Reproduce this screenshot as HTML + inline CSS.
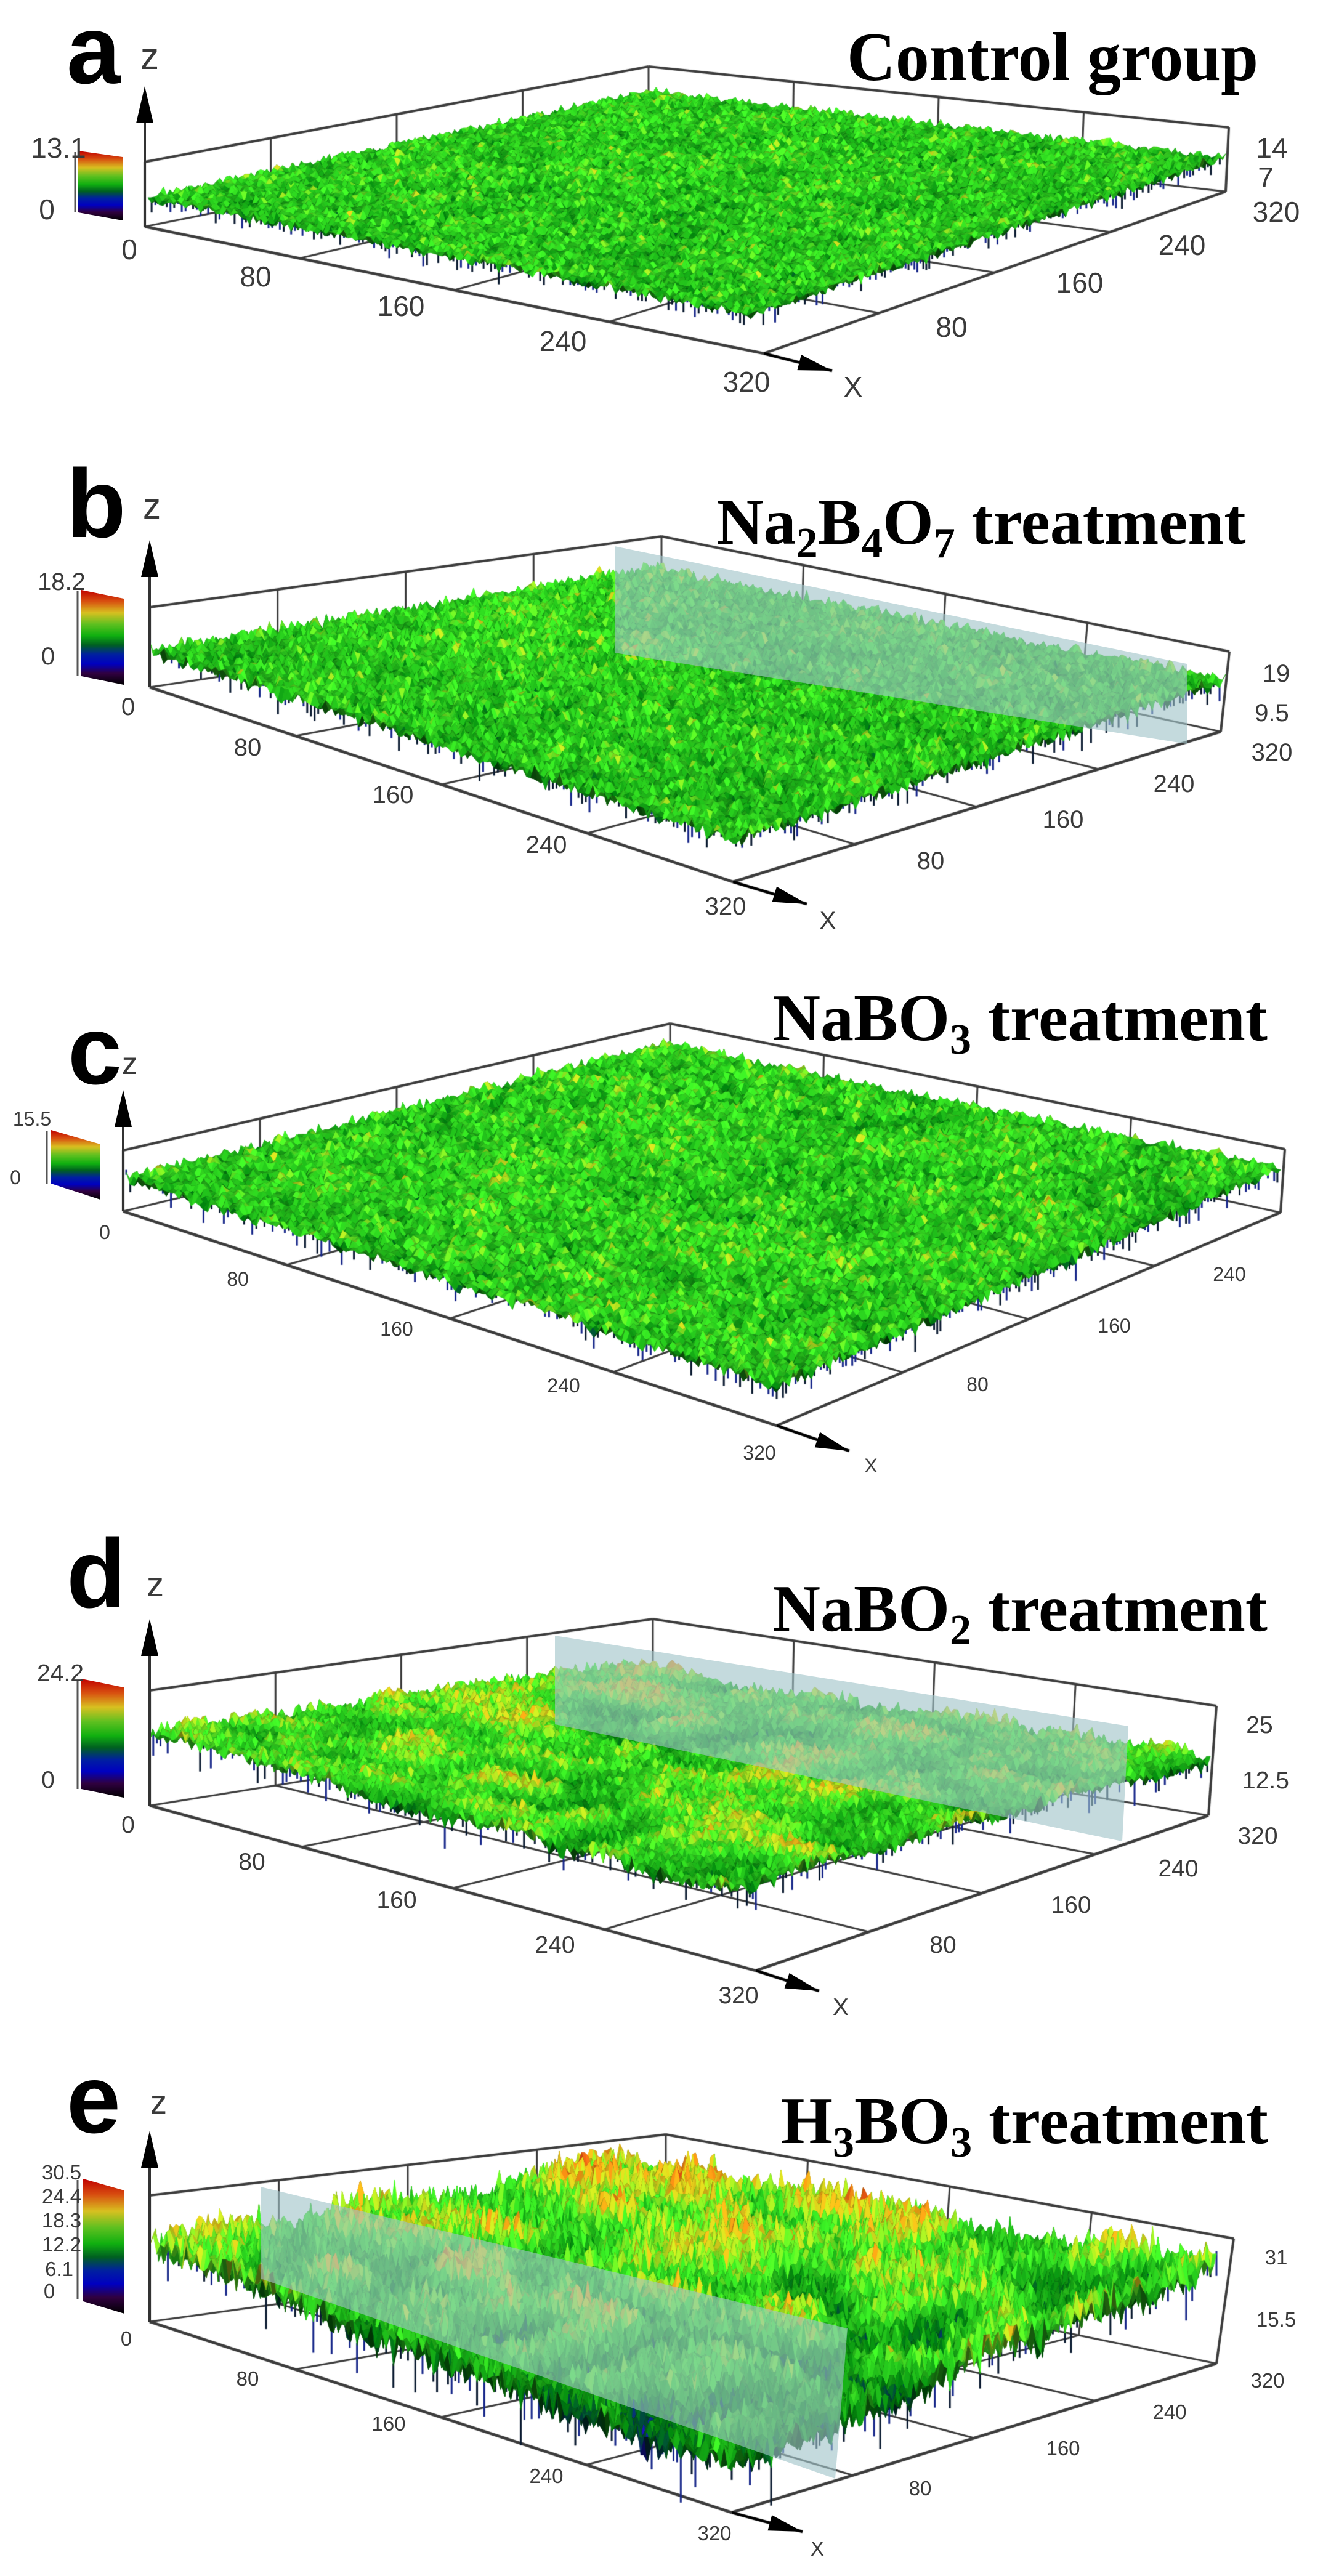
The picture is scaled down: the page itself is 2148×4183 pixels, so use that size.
<!DOCTYPE html>
<html><head><meta charset="utf-8">
<style>
html,body{margin:0;padding:0;background:#fff;}
#wrap{position:relative;width:2148px;height:4183px;overflow:hidden;}
canvas,svg{position:absolute;left:0;top:0;}
.lbl{font-family:"Liberation Sans",sans-serif;font-weight:bold;fill:#000;}
.ttl{font-family:"Liberation Serif",serif;font-weight:bold;fill:#000;}
.tk{font-family:"Liberation Sans",sans-serif;fill:#3a3a3a;}
</style></head>
<body>
<div id="wrap">
<canvas id="cv" width="2148" height="4183"></canvas>
<svg id="ov" width="2148" height="4183" viewBox="0 0 2148 4183" xmlns="http://www.w3.org/2000/svg">
<defs>
<linearGradient id="cmap" x1="0" y1="0" x2="0" y2="1">
<stop offset="0" stop-color="#c00000"/><stop offset="0.12" stop-color="#d85010"/>
<stop offset="0.24" stop-color="#d8c020"/><stop offset="0.36" stop-color="#60c020"/>
<stop offset="0.48" stop-color="#10b010"/><stop offset="0.58" stop-color="#006020"/>
<stop offset="0.68" stop-color="#0020a0"/><stop offset="0.78" stop-color="#0000c0"/>
<stop offset="0.88" stop-color="#300040"/><stop offset="1" stop-color="#000000"/>
</linearGradient>
</defs>

<g>
<text class="lbl" x="108" y="135" font-size="158">a</text>
<text class="tk" x="228" y="112" font-size="60">z</text>
<text class="ttl" x="1375" y="130" font-size="112" textLength="668" lengthAdjust="spacingAndGlyphs">Control group</text>
<polygon points="127,245 199,255 199,358 127,345" fill="url(#cmap)"/>
<path d="M122 247 V345" stroke="#555" stroke-width="3" fill="none"/>
<text class="tk" x="95" y="256" font-size="46" text-anchor="middle">13.1</text>
<text class="tk" x="76" y="356" font-size="46" text-anchor="middle">0</text>
<text class="tk" x="210" y="421" font-size="46" text-anchor="middle">0</text>
<text class="tk" x="415" y="465" font-size="46" text-anchor="middle">80</text>
<text class="tk" x="651" y="513" font-size="46" text-anchor="middle">160</text>
<text class="tk" x="914" y="570" font-size="46" text-anchor="middle">240</text>
<text class="tk" x="1212" y="636" font-size="46" text-anchor="middle">320</text>
<text class="tk" x="1385" y="644" font-size="46" text-anchor="middle">X</text>
<text class="tk" x="1545" y="547" font-size="46" text-anchor="middle">80</text>
<text class="tk" x="1753" y="475" font-size="46" text-anchor="middle">160</text>
<text class="tk" x="1919" y="414" font-size="46" text-anchor="middle">240</text>
<text class="tk" x="2072" y="360" font-size="46" text-anchor="middle">320</text>
<text class="tk" x="2065" y="256" font-size="46" text-anchor="middle">14</text>
<text class="tk" x="2055" y="304" font-size="46" text-anchor="middle">7</text>
</g>

<g>
<text class="lbl" x="108" y="872" font-size="158">b</text>
<text class="tk" x="232" y="842" font-size="58">z</text>
<text class="ttl" x="1163" y="883" font-size="106">Na<tspan font-size="70" dy="22">2</tspan><tspan dy="-22">B</tspan><tspan font-size="70" dy="22">4</tspan><tspan dy="-22">O</tspan><tspan font-size="70" dy="22">7</tspan><tspan dy="-22"> treatment</tspan></text>
<polygon points="132,958 201,972 201,1112 132,1098" fill="url(#cmap)"/>
<path d="M126 960 V1098" stroke="#555" stroke-width="3" fill="none"/>
<text class="tk" x="100" y="958" font-size="40" text-anchor="middle">18.2</text>
<text class="tk" x="78" y="1079" font-size="40" text-anchor="middle">0</text>
<text class="tk" x="208" y="1161" font-size="40" text-anchor="middle">0</text>
<text class="tk" x="402" y="1227" font-size="40" text-anchor="middle">80</text>
<text class="tk" x="638" y="1304" font-size="40" text-anchor="middle">160</text>
<text class="tk" x="887" y="1385" font-size="40" text-anchor="middle">240</text>
<text class="tk" x="1178" y="1485" font-size="40" text-anchor="middle">320</text>
<text class="tk" x="1344" y="1508" font-size="40" text-anchor="middle">X</text>
<text class="tk" x="1511" y="1411" font-size="40" text-anchor="middle">80</text>
<text class="tk" x="1726" y="1344" font-size="40" text-anchor="middle">160</text>
<text class="tk" x="1906" y="1286" font-size="40" text-anchor="middle">240</text>
<text class="tk" x="2065" y="1235" font-size="40" text-anchor="middle">320</text>
<text class="tk" x="2072" y="1107" font-size="40" text-anchor="middle">19</text>
<text class="tk" x="2065" y="1171" font-size="40" text-anchor="middle">9.5</text>
</g>

<g>
<text class="lbl" x="110" y="1760" font-size="158">c</text>
<text class="tk" x="198" y="1744" font-size="50">z</text>
<text class="ttl" x="1254" y="1689" font-size="108">NaBO<tspan font-size="70" dy="22">3</tspan><tspan dy="-22"> treatment</tspan></text>
<polygon points="83,1835 163,1858 163,1948 83,1922" fill="url(#cmap)"/>
<path d="M76 1837 V1922" stroke="#555" stroke-width="3" fill="none"/>
<text class="tk" x="52" y="1828" font-size="32" text-anchor="middle">15.5</text>
<text class="tk" x="25" y="1923" font-size="32" text-anchor="middle">0</text>
<text class="tk" x="170" y="2012" font-size="32" text-anchor="middle">0</text>
<text class="tk" x="386" y="2088" font-size="32" text-anchor="middle">80</text>
<text class="tk" x="644" y="2169" font-size="32" text-anchor="middle">160</text>
<text class="tk" x="915" y="2261" font-size="32" text-anchor="middle">240</text>
<text class="tk" x="1233" y="2370" font-size="32" text-anchor="middle">320</text>
<text class="tk" x="1414" y="2391" font-size="32" text-anchor="middle">X</text>
<text class="tk" x="1587" y="2259" font-size="32" text-anchor="middle">80</text>
<text class="tk" x="1809" y="2164" font-size="32" text-anchor="middle">160</text>
<text class="tk" x="1996" y="2080" font-size="32" text-anchor="middle">240</text>
</g>

<g>
<text class="lbl" x="108" y="2610" font-size="158">d</text>
<text class="tk" x="238" y="2592" font-size="56">z</text>
<text class="ttl" x="1254" y="2648" font-size="108">NaBO<tspan font-size="70" dy="22">2</tspan><tspan dy="-22"> treatment</tspan></text>
<polygon points="132,2726 201,2740 201,2919 132,2905" fill="url(#cmap)"/>
<path d="M126 2728 V2905" stroke="#555" stroke-width="3" fill="none"/>
<text class="tk" x="98" y="2730" font-size="39" text-anchor="middle">24.2</text>
<text class="tk" x="78" y="2903" font-size="39" text-anchor="middle">0</text>
<text class="tk" x="208" y="2976" font-size="39" text-anchor="middle">0</text>
<text class="tk" x="409" y="3036" font-size="39" text-anchor="middle">80</text>
<text class="tk" x="644" y="3098" font-size="39" text-anchor="middle">160</text>
<text class="tk" x="901" y="3171" font-size="39" text-anchor="middle">240</text>
<text class="tk" x="1199" y="3253" font-size="39" text-anchor="middle">320</text>
<text class="tk" x="1365" y="3272" font-size="39" text-anchor="middle">X</text>
<text class="tk" x="1531" y="3171" font-size="39" text-anchor="middle">80</text>
<text class="tk" x="1739" y="3106" font-size="39" text-anchor="middle">160</text>
<text class="tk" x="1913" y="3047" font-size="39" text-anchor="middle">240</text>
<text class="tk" x="2042" y="2994" font-size="39" text-anchor="middle">320</text>
<text class="tk" x="2045" y="2814" font-size="39" text-anchor="middle">25</text>
<text class="tk" x="2055" y="2904" font-size="39" text-anchor="middle">12.5</text>
</g>

<g>
<text class="lbl" x="108" y="3463" font-size="158">e</text>
<text class="tk" x="244" y="3432" font-size="54">z</text>
<text class="ttl" x="1268" y="3480" font-size="108">H<tspan font-size="70" dy="22">3</tspan><tspan dy="-22">BO</tspan><tspan font-size="70" dy="22">3</tspan><tspan dy="-22"> treatment</tspan></text>
<polygon points="135,3538 202,3557 202,3757 135,3737" fill="url(#cmap)"/>
<path d="M126 3540 V3734" stroke="#555" stroke-width="3" fill="none"/>
<text class="tk" x="100" y="3539" font-size="33" text-anchor="middle">30.5</text>
<text class="tk" x="100" y="3578" font-size="33" text-anchor="middle">24.4</text>
<text class="tk" x="100" y="3617" font-size="33" text-anchor="middle">18.3</text>
<text class="tk" x="100" y="3656" font-size="33" text-anchor="middle">12.2</text>
<text class="tk" x="96" y="3696" font-size="33" text-anchor="middle">6.1</text>
<text class="tk" x="80" y="3732" font-size="33" text-anchor="middle">0</text>
<text class="tk" x="205" y="3809" font-size="33" text-anchor="middle">0</text>
<text class="tk" x="402" y="3874" font-size="33" text-anchor="middle">80</text>
<text class="tk" x="631" y="3947" font-size="33" text-anchor="middle">160</text>
<text class="tk" x="887" y="4032" font-size="33" text-anchor="middle">240</text>
<text class="tk" x="1160" y="4125" font-size="33" text-anchor="middle">320</text>
<text class="tk" x="1327" y="4150" font-size="33" text-anchor="middle">X</text>
<text class="tk" x="1494" y="4052" font-size="33" text-anchor="middle">80</text>
<text class="tk" x="1726" y="3987" font-size="33" text-anchor="middle">160</text>
<text class="tk" x="1899" y="3928" font-size="33" text-anchor="middle">240</text>
<text class="tk" x="2058" y="3877" font-size="33" text-anchor="middle">320</text>
<text class="tk" x="2072" y="3677" font-size="33" text-anchor="middle">31</text>
<text class="tk" x="2072" y="3778" font-size="33" text-anchor="middle">15.5</text>
</g>
<g id="planes"></g>
</svg>
</div>
<script>
// ---- data arrays ----
const panelIds = ['a','b','c','d','e'];
const zMax = [13.1, 18.2, 15.5, 24.2, 30.5];
const meanLevel = [0.52, 0.52, 0.53, 0.56, 0.55];
const roughness = [0.2, 0.2, 0.2, 0.16, 0.2];
const waviness = [0.03, 0.03, 0.04, 0.14, 0.16];
const trend = [0, 0.02, 0, 0, 0.14];
const hasPlane = [false, true, false, true, true];

// ---- layout geometry (pixels) ----
const G = [
 {Lt:[235,263],Bt:[1053,108],Rt:[1995,207],Lb:[235,368],Fb:[1240,574],Rb:[1990,311],
  S:{L:[240,322],B:[1053,150],R:[1990,257],F:[1220,512]}, tip:[1351,602], top:140},
 {Lt:[243,986],Bt:[1074,871],Rt:[1996,1058],Lb:[243,1116],Fb:[1190,1432],Rb:[1982,1188],
  S:{L:[243,1058],B:[1060,927],R:[1990,1106],F:[1195,1366]}, tip:[1310,1468], top:877,
  plane:[[998,887],[1927,1078],[1927,1208],[998,1060]]},
 {Lt:[200,1868],Bt:[1088,1662],Rt:[2086,1866],Lb:[200,1967],Fb:[1261,2315],Rb:[2079,1969],
  S:{L:[205,1914],B:[1081,1697],R:[2079,1898],F:[1261,2253]}, tip:[1379,2356], top:1770},
 {Lt:[243,2745],Bt:[1060,2629],Rt:[1975,2770],Lb:[243,2932],Fb:[1227,3200],Rb:[1962,2948],
  S:{L:[243,2819],B:[1000,2712],R:[1965,2857],F:[1178,3073]}, tip:[1330,3233], top:2629,
  plane:[[901,2656],[1832,2803],[1822,2990],[901,2800]]},
 {Lt:[243,3565],Bt:[1081,3466],Rt:[2003,3635],Lb:[243,3770],Fb:[1188,4080],Rb:[1975,3838],
  S:{L:[243,3660],B:[1000,3532],R:[1975,3688],F:[1188,3993]}, tip:[1303,4111], top:3460,
  plane:[[423,3551],[1376,3781],[1356,4025],[423,3700]]}
];

const cmapStops = [
 [0.00,[10,0,10]],[0.10,[40,0,70]],[0.20,[16,16,160]],[0.30,[0,50,50]],
 [0.40,[0,100,10]],[0.50,[25,145,20]],[0.60,[50,190,30]],[0.70,[160,180,25]],
 [0.80,[200,130,16]],[0.90,[185,60,16]],[1.00,[150,0,0]]];
function cmap(t){
  t=Math.max(0,Math.min(1,t));
  for(let k=1;k<cmapStops.length;k++){
    if(t<=cmapStops[k][0]){const a=cmapStops[k-1],b=cmapStops[k];const f=(t-a[0])/(b[0]-a[0]);
      return [0,1,2].map(c=>a[1][c]+(b[1][c]-a[1][c])*f);}
  }
  return cmapStops[cmapStops.length-1][1];
}
function rng(seed){return function(){seed|=0;seed=seed+0x6D2B79F5|0;let t=Math.imul(seed^seed>>>15,1|seed);
  t=t+Math.imul(t^t>>>7,61|t)^t;return((t^t>>>14)>>>0)/4294967296;};}
function bil(q,u,v){return[(1-u)*(1-v)*q.L[0]+u*(1-v)*q.F[0]+u*v*q.R[0]+(1-u)*v*q.B[0],
  (1-u)*(1-v)*q.L[1]+u*(1-v)*q.F[1]+u*v*q.R[1]+(1-u)*v*q.B[1]];}

const cv=document.getElementById('cv');const ctx=cv.getContext('2d');
function line(a,b,w,c){ctx.strokeStyle=c||'#3c3c3c';ctx.lineWidth=w||4;ctx.beginPath();ctx.moveTo(a[0],a[1]);ctx.lineTo(b[0],b[1]);ctx.stroke();}
function lerp(a,b,f){return[a[0]+(b[0]-a[0])*f,a[1]+(b[1]-a[1])*f];}

const svg=document.getElementById('ov');const planesG=document.getElementById('planes');
const NS='http://www.w3.org/2000/svg';

G.forEach((g,p)=>{
  const wallH=g.Lb[1]-g.Lt[1];
  const Bb=[g.Bt[0],g.Bt[1]+wallH*0.92];
  const floor={L:g.Lb,F:g.Fb,R:g.Rb,B:Bb};
  line(g.Lt,g.Bt);line(g.Bt,g.Rt);line(g.Lt,g.Lb);line(g.Rt,g.Rb);line(g.Bt,Bb,3);
  line(g.Lb,Bb,3);line(Bb,g.Rb,3);
  for(const f of [0.25,0.5,0.75]){
    line(lerp(g.Lt,g.Bt,f),lerp(g.Lb,Bb,f),3);
    line(lerp(g.Bt,g.Rt,f),lerp(Bb,g.Rb,f),3);
    line(bil(floor,f,0),bil(floor,f,1),3);
    line(bil(floor,0,f),bil(floor,1,f),3);
  }
  line(g.Lb,g.Fb,4.5);line(g.Fb,g.Rb,4.5);
  line(g.Fb,g.tip,4.5,'#000');
  const R=rng(1234+p*77);const N=160;const C=14;
  const coarse=[];for(let i=0;i<=C;i++){coarse.push([]);for(let j=0;j<=C;j++)coarse[i].push(R()*2-1);}
  function smooth(u,v){const x=u*C,y=v*C;const i=Math.min(C-1,Math.floor(x)),j=Math.min(C-1,Math.floor(y));
    let fx=x-i,fy=y-j;fx=fx*fx*(3-2*fx);fy=fy*fy*(3-2*fy);
    return coarse[i][j]*(1-fx)*(1-fy)+coarse[i+1][j]*fx*(1-fy)+coarse[i][j+1]*(1-fx)*fy+coarse[i+1][j+1]*fx*fy;}
  const T=[];
  for(let i=0;i<=N;i++){T.push([]);for(let j=0;j<=N;j++){const u=i/N,v=j/N;
    const w=(R()+R()+R()-1.5)/0.87;
    let t=meanLevel[p]+roughness[p]*w+waviness[p]*smooth(u,v)+trend[p]*(v-u);
    T[i].push(Math.max(0,Math.min(1,t)));}}
  const amp=zMax[p]*(p===4?2.2:1.6);
  const P=(i,j)=>{const b=bil(g.S,i/N,j/N);return[b[0],b[1]-(T[i][j]-0.5)*2*amp];};
  // front dark fringe
  const fr=(a)=>{if(R()<0.45)return;const d=4+R()*R()*amp*1.1;
    ctx.strokeStyle=R()<0.5?'#18288a':'#0a1a30';ctx.lineWidth=3;ctx.beginPath();ctx.moveTo(a[0],a[1]-4);ctx.lineTo(a[0],a[1]+d);ctx.stroke();};
  for(let i=0;i<=N;i++)fr(P(i,0));
  for(let j=0;j<=N;j++)fr(P(N,j));
  const cells=[];for(let i=0;i<N;i++)for(let j=0;j<N;j++)cells.push([i,j]);
  cells.sort((a,b)=>(a[0]-a[1])-(b[0]-b[1]));
  for(const [i,j] of cells){
    const p00=P(i,j),p10=P(i+1,j),p11=P(i+1,j+1),p01=P(i,j+1);
    const t=(T[i][j]+T[i+1][j]+T[i+1][j+1]+T[i][j+1])/4;
    const sl=(T[i][j+1]-T[i+1][j]);let sh=1+sl*1.8;sh=Math.max(0.5,Math.min(1.35,sh));
    const c=cmap(t).map(x=>Math.max(0,Math.min(255,Math.round(x*sh))));
    const col='rgb('+c[0]+','+c[1]+','+c[2]+')';
    ctx.fillStyle=col;ctx.strokeStyle=col;ctx.lineWidth=1;
    ctx.beginPath();ctx.moveTo(p00[0],p00[1]);ctx.lineTo(p10[0],p10[1]);ctx.lineTo(p11[0],p11[1]);ctx.lineTo(p01[0],p01[1]);ctx.closePath();ctx.fill();ctx.stroke();
  }
  const ax=document.createElementNS(NS,'line');
  ax.setAttribute('x1',g.Lt[0]);ax.setAttribute('x2',g.Lt[0]);ax.setAttribute('y1',g.top+30);ax.setAttribute('y2',g.Lb[1]);
  ax.setAttribute('stroke','#333');ax.setAttribute('stroke-width','4');
  
  
  svg.appendChild(ax);
  const ah=document.createElementNS(NS,'polygon');
  const x0=g.Lt[0],y0=g.top;
  ah.setAttribute('points',x0+','+y0+' '+(x0-14)+','+(y0+60)+' '+(x0+14)+','+(y0+60));
  ah.setAttribute('fill','#000');
  
  
  svg.appendChild(ah);
  const dx=g.tip[0]-g.Fb[0],dy=g.tip[1]-g.Fb[1],len=Math.hypot(dx,dy),ux=dx/len,uy=dy/len;
  const bx=g.tip[0]-ux*55,by=g.tip[1]-uy*55;
  const xh=document.createElementNS(NS,'polygon');
  xh.setAttribute('points',g.tip[0]+','+g.tip[1]+' '+(bx-uy*13)+','+(by+ux*13)+' '+(bx+uy*13)+','+(by-ux*13));
  xh.setAttribute('fill','#000');
  
  
  svg.appendChild(xh);
  if(hasPlane[p]&&g.plane){
    const pl=document.createElementNS(NS,'polygon');
    pl.setAttribute('points',g.plane.map(q=>q.join(',')).join(' '));
    pl.setAttribute('fill','#9fc4c8');pl.setAttribute('fill-opacity','0.62');
    
    
    planesG.appendChild(pl);
  }
});
</script>
</body></html>
